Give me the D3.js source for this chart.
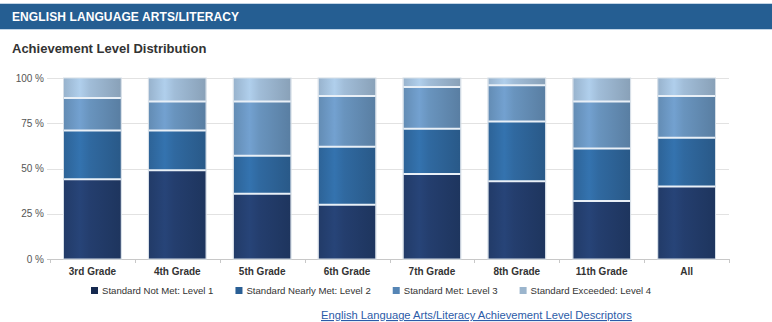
<!DOCTYPE html>
<html>
<head>
<meta charset="utf-8">
<script src="https://cdn.jsdelivr.net/npm/d3@7/dist/d3.min.js"></script>
<style>
  html, body { margin: 0; padding: 0; background: #fff; }
  svg { display: block; font-family: "Liberation Sans", Arial, Helvetica, sans-serif; }
</style>
</head>
<body>
<svg id="chart" width="772" height="322"></svg>
<script>
// ---- data ----
const categories = ["3rd Grade", "4th Grade", "5th Grade", "6th Grade", "7th Grade", "8th Grade", "11th Grade", "All"];
const level1 = [44, 49, 36, 30, 47, 43, 32, 40]; // Standard Not Met
const level2 = [27, 22, 21, 32, 25, 33, 29, 27]; // Standard Nearly Met
const level3 = [18, 16, 30, 28, 23, 20, 26, 23]; // Standard Met
const level4 = [11, 13, 13, 10, 5, 4, 13, 10];   // Standard Exceeded
const seriesNames = ["Standard Not Met: Level 1", "Standard Nearly Met: Level 2", "Standard Met: Level 3", "Standard Exceeded: Level 4"];
const yTicks = [0, 25, 50, 75, 100];
const headerTitle = "ENGLISH LANGUAGE ARTS/LITERACY";
const chartTitle = "Achievement Level Distribution";
const linkText = "English Language Arts/Literacy Achievement Level Descriptors";

// ---- styles ----
const colors = ["#233d6c", "#2f679d", "#6791bb", "#9ebad4"];
const legendColors = ["#15294f", "#2a5f95", "#5585b5", "#9bb5cd"];

const svg = d3.select("#chart");
const defs = svg.append("defs");
colors.forEach((c, i) => {
  const g = defs.append("linearGradient").attr("id", "grad" + i)
    .attr("x1", "0%").attr("x2", "100%").attr("y1", "0%").attr("y2", "0%");
  const base = d3.color(c);
  g.append("stop").attr("offset", "0%").attr("stop-color", base.darker(0.1).formatHex());
  g.append("stop").attr("offset", "28%").attr("stop-color", base.brighter(0.3).formatHex());
  g.append("stop").attr("offset", "45%").attr("stop-color", base.brighter(0.05).formatHex());
  g.append("stop").attr("offset", "100%").attr("stop-color", base.darker(0.4).formatHex());
});

// header
svg.append("rect").attr("x", 0).attr("y", 3).attr("width", 772).attr("height", 27).attr("fill", "#c3d5e6");
svg.append("rect").attr("x", 0).attr("y", 4).attr("width", 772).attr("height", 25).attr("fill", "#255e92");
svg.append("text").attr("x", 12).attr("y", 21)
  .attr("fill", "#fff").attr("font-size", 12).attr("font-weight", "bold")
  .attr("letter-spacing", "0.1px")
  .text(headerTitle);
svg.append("text").attr("x", 12).attr("y", 53)
  .attr("fill", "#333").attr("font-size", 13).attr("font-weight", "bold")
  .text(chartTitle);

// scales
const x = d3.scaleBand().domain(categories).range([50, 729]).paddingInner(0.33).paddingOuter(0.165);
const y = d3.scaleLinear().domain([0, 100]).range([259, 78]);

// grid
const grid = svg.append("g");
grid.selectAll("line").data(yTicks).join("line")
  .attr("x1", 47).attr("x2", 729)
  .attr("y1", d => Math.round(y(d)) + 0.5).attr("y2", d => Math.round(y(d)) + 0.5)
  .attr("stroke", d => d === 0 ? "#c8c8c8" : "#e2e2e2").attr("stroke-width", 1);

// y labels
svg.append("g").selectAll("text").data(yTicks).join("text")
  .attr("x", 44).attr("y", d => y(d)).attr("dy", "0.35em")
  .attr("text-anchor", "end").attr("font-size", 10).attr("fill", "#555")
  .text(d => d + " %");

// x axis ticks at band boundaries
const step = x.step();
const bounds = d3.range(categories.length + 1).map(i => x.range()[0] + i * step);
svg.append("g").selectAll("line").data(bounds).join("line")
  .attr("x1", d => Math.round(d) + 0.5).attr("x2", d => Math.round(d) + 0.5)
  .attr("y1", y(0)).attr("y2", y(0) + 4)
  .attr("stroke", "#c8c8c8");

// x labels
svg.append("g").selectAll("text").data(categories).join("text")
  .attr("x", d => x(d) + x.bandwidth() / 2).attr("y", 275)
  .attr("text-anchor", "middle").attr("font-size", 10).attr("font-weight", "bold").attr("fill", "#333")
  .text(d => d);

// stacked bars
const rows = categories.map((c, i) => ({ cat: c, l1: level1[i], l2: level2[i], l3: level3[i], l4: level4[i] }));
const stack = d3.stack().keys(["l1", "l2", "l3", "l4"]);
const series = stack(rows);
const barG = svg.append("g");
series.forEach((s, si) => {
  barG.append("g").selectAll("rect").data(s).join("rect")
    .attr("x", d => x(d.data.cat))
    .attr("width", x.bandwidth())
    .attr("y", d => y(d[1]))
    .attr("height", d => y(d[0]) - y(d[1]))
    .attr("fill", "url(#grad" + si + ")");
});
// side borders
barG.append("g").selectAll("rect").data(categories).join("rect")
  .attr("x", d => x(d) - 0.5).attr("width", x.bandwidth() + 1)
  .attr("y", y(100)).attr("height", y(0) - y(100))
  .attr("fill", "none").attr("stroke", "#d4dde6").attr("stroke-width", 1);
// separators between segments
series.slice(0, 3).forEach(s => {
  barG.append("g").selectAll("line").data(s).join("line")
    .attr("x1", d => x(d.data.cat)).attr("x2", d => x(d.data.cat) + x.bandwidth())
    .attr("y1", d => y(d[1])).attr("y2", d => y(d[1]))
    .attr("stroke", "#e9f0f7").attr("stroke-width", 2);
});

// legend
const legend = svg.append("g");
let lx = 91;
seriesNames.forEach((name, i) => {
  legend.append("rect").attr("x", lx).attr("y", 287).attr("width", 7).attr("height", 7).attr("fill", legendColors[i]);
  const t = legend.append("text").attr("x", lx + 11).attr("y", 294)
    .attr("font-size", 9.6).attr("fill", "#333").text(name);
  lx += 11 + t.node().getComputedTextLength() + 22;
});

// link
svg.append("text").attr("x", 321).attr("y", 319)
  .attr("font-size", 11.2).attr("fill", "#2b5ba8")
  .attr("text-decoration", "underline")
  .text(linkText);
</script>
</body>
</html>
